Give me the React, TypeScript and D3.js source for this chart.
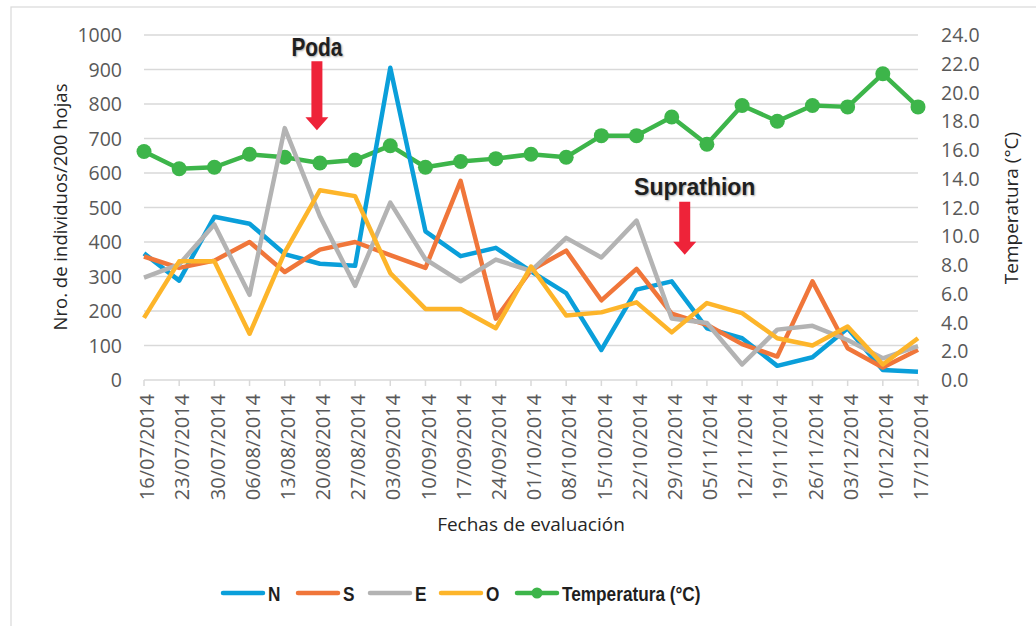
import { scaleLinear, scalePoint, line } from "d3";

const dates = [
  "16/07/2014", "23/07/2014", "30/07/2014", "06/08/2014", "13/08/2014", "20/08/2014",
  "27/08/2014", "03/09/2014", "10/09/2014", "17/09/2014", "24/09/2014", "01/10/2014",
  "08/10/2014", "15/10/2014", "22/10/2014", "29/10/2014", "05/11/2014", "12/11/2014",
  "19/11/2014", "26/11/2014", "03/12/2014", "10/12/2014", "17/12/2014",
];

const valuesN = [367, 288, 473, 453, 365, 337, 331, 905, 431, 359, 383, 315, 252, 87, 262, 286, 150, 121, 41, 66, 150, 29, 24];
const valuesS = [358, 325, 346, 400, 313, 378, 400, 362, 325, 577, 178, 318, 375, 231, 322, 192, 160, 104, 68, 286, 92, 36, 88];
const valuesE = [297, 335, 451, 247, 730, 475, 273, 514, 350, 286, 349, 316, 412, 355, 462, 178, 165, 45, 146, 157, 116, 63, 98];
const valuesO = [180, 344, 344, 134, 370, 550, 533, 310, 206, 206, 150, 329, 187, 196, 225, 138, 223, 194, 121, 100, 155, 45, 121];
const temperatura = [15.9, 14.7, 14.8, 15.7, 15.5, 15.1, 15.3, 16.3, 14.8, 15.2, 15.4, 15.7, 15.5, 17.0, 17.0, 18.3, 16.4, 19.1, 18.0, 19.1, 19.0, 21.3, 19.0];

const leftTicks = [0, 100, 200, 300, 400, 500, 600, 700, 800, 900, 1000];
const rightTicks = [0, 2, 4, 6, 8, 10, 12, 14, 16, 18, 20, 22, 24];

const series = [
  { name: "N", values: valuesN, color: "#0A9FDA" },
  { name: "S", values: valuesS, color: "#F0763A" },
  { name: "E", values: valuesE, color: "#B3B3B3" },
  { name: "O", values: valuesO, color: "#FDB52A" },
];
const tempColor = "#3DB54A";

// annotation arrows: date they point at, top/bottom in left-axis units
const annotations = [
  { label: "Poda", date: "20/08/2014", dx: -3, top: 924, bottom: 724, textDx: 0, textY: 938, size: 26, sx: 0.8, box: false },
  { label: "Suprathion", date: "29/10/2014", dx: 13, top: 517, bottom: 363, textDx: 10, textY: 535, size: 23, sx: 1, box: true },
];

const font = "'Open Sans', sans-serif";
const boldFont = "'Liberation Sans', Arial, sans-serif";

export default function App() {
  const width = 1036;
  const height = 626;
  const margin = { top: 35, bottom: 246, left: 144, right: 118 };

  const x = scalePoint<string>().domain(dates).range([margin.left, width - margin.right]);
  const yL = scaleLinear().domain([0, 1000]).range([height - margin.bottom, margin.top]);
  const yR = scaleLinear().domain([0, 24]).range([height - margin.bottom, margin.top]);

  const lineL = line<number>()
    .x((_, i) => x(dates[i])!)
    .y((d) => yL(d));
  const lineR = line<number>()
    .x((_, i) => x(dates[i])!)
    .y((d) => yR(d));

  const x0 = x(dates[0])!;
  const x1 = x(dates[dates.length - 1])!;
  const base = yL(0);

  const legendY = 593;
  const legendItems = [
    { name: "N", color: series[0].color, x: 223 },
    { name: "S", color: series[1].color, x: 298 },
    { name: "E", color: series[2].color, x: 370 },
    { name: "O", color: series[3].color, x: 441 },
    { name: "Temperatura (°C)", color: tempColor, x: 517, marker: true },
  ];

  return (
    <svg width={width} height={height} style={{ position: "absolute", left: 0, top: 0, background: "#fff" }}>
      <rect x={11} y={7} width={1200} height={800} fill="#fff" stroke="#d9d9d9" strokeWidth={1.2} />

      {/* grid */}
      {leftTicks.map((t) => (
        <line key={`g-${t}`} x1={x0} x2={x1} y1={yL(t)} y2={yL(t)} stroke="#d9d9d9" strokeWidth={1.5} />
      ))}
      {dates.map((d) => (
        <line key={`t-${d}`} x1={x(d)} x2={x(d)} y1={base} y2={base + 6} stroke="#d9d9d9" strokeWidth={1.5} />
      ))}

      {/* left axis */}
      {leftTicks.map((t) => (
        <text key={`l-${t}`} x={122} y={yL(t)} dy="0.36em" textAnchor="end" fontFamily={font} fontSize={19.5} fill="#595959">
          {t}
        </text>
      ))}
      {/* right axis */}
      {rightTicks.map((t) => (
        <text key={`r-${t}`} x={941} y={yR(t)} dy="0.36em" textAnchor="start" fontFamily={font} fontSize={19.5} fill="#595959">
          {t.toFixed(1)}
        </text>
      ))}
      {/* x labels */}
      {dates.map((d) => (
        <text
          key={`x-${d}`}
          transform={`translate(${x(d)! + 3},${base + 14}) rotate(-90)`}
          textAnchor="end"
          dy="0.36em"
          fontFamily={font}
          fontSize={20}
          fill="#595959"
        >
          {d}
        </text>
      ))}

      <text transform="translate(60,207) rotate(-90)" textAnchor="middle" dy="0.36em" fontFamily={font} fontSize={18.5} fill="#262626">
        Nro. de individuos/200 hojas
      </text>
      <text transform="translate(1011,208) rotate(-90)" textAnchor="middle" dy="0.36em" fontFamily={font} fontSize={19} fill="#262626">
        Temperatura (°C)
      </text>
      <text x={531} y={524} textAnchor="middle" dy="0.36em" fontFamily={font} fontSize={19} fill="#262626">
        Fechas de evaluación
      </text>

      {/* series */}
      <path d={lineR(temperatura)!} fill="none" stroke={tempColor} strokeWidth={4.5} strokeLinejoin="round" />
      {temperatura.map((t, i) => (
        <circle key={`c-${i}`} cx={x(dates[i])} cy={yR(t)} r={7.5} fill={tempColor} />
      ))}
      {series.map((s) => (
        <path key={s.name} d={lineL(s.values)!} fill="none" stroke={s.color} strokeWidth={4.5} strokeLinejoin="round" />
      ))}

      {/* annotations */}
      {annotations.map((a) => {
        const cx = x(a.date)! + a.dx;
        const top = yL(a.top);
        const bottom = yL(a.bottom);
        const headTop = bottom - 13;
        const w = 5.5;
        const hw = 11.5;
        const ty = yL(a.textY);
        const tw = 128;
        return (
          <g key={a.label}>
            {a.box && <rect x={cx + a.textDx - tw / 2} y={ty - 20} width={tw} height={28} fill="#fff" />}
            <path
              d={`M${cx - w},${top} L${cx + w},${top} L${cx + w},${headTop} L${cx + hw},${headTop} L${cx},${bottom} L${cx - hw},${headTop} L${cx - w},${headTop} Z`}
              fill="#EE2339"
            />
            <text
              transform={`translate(${cx + a.textDx},${ty}) scale(${a.sx},1)`}
              textAnchor="middle"
              fontFamily={boldFont}
              fontWeight="bold"
              fontSize={a.size}
              fill="#1f1f1f"
              style={{ textShadow: "1px 1px 2px rgba(0,0,0,0.35)" }}
            >
              {a.label}
            </text>
          </g>
        );
      })}

      {/* legend */}
      {legendItems.map((it) => (
        <g key={it.name}>
          <line x1={it.x} x2={it.x + 40} y1={legendY} y2={legendY} stroke={it.color} strokeWidth={4.5} strokeLinecap="round" />
          {it.marker && <circle cx={it.x + 20} cy={legendY} r={5.5} fill={it.color} />}
          <text
            transform={`translate(${it.x + 45},${legendY}) scale(0.82,1)`}
            dy="0.36em"
            fontFamily={boldFont}
            fontWeight="bold"
            fontSize={21}
            fill="#1f1f1f"
          >
            {it.name}
          </text>
        </g>
      ))}
    </svg>
  );
}
